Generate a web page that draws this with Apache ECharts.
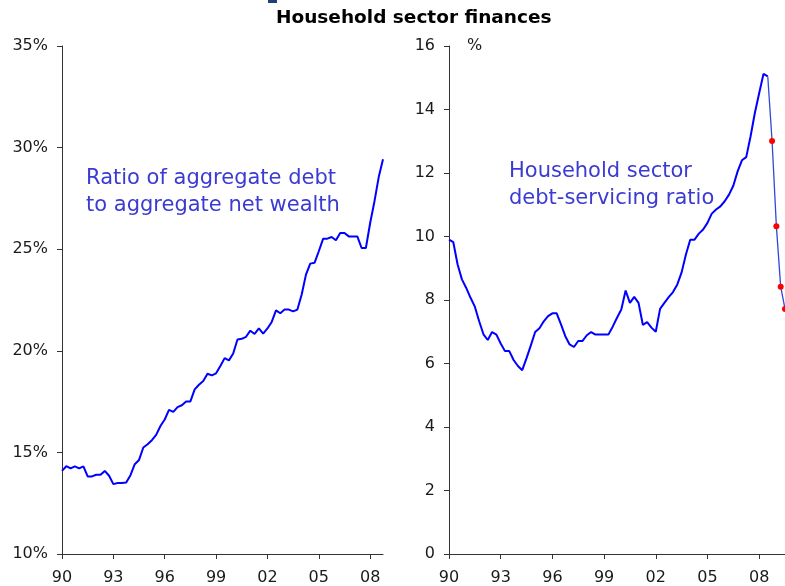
<!DOCTYPE html>
<html>
<head>
<meta charset="utf-8">
<script src="https://cdn.jsdelivr.net/npm/echarts@6/dist/echarts.min.js"></script>
<style>
  html, body { margin: 0; padding: 0; background: #ffffff; }
  #chart { width: 785px; height: 586px; }
</style>
</head>
<body>
<div id="chart"></div>
<script>
// Quarterly series, first observation 1990 Q1
const startYear = 1990;
const tickYears = [1990, 1993, 1996, 1999, 2002, 2005, 2008];

// Ratio of aggregate debt to aggregate net wealth, % (1990 Q1 - 2008 Q4)
const debtToWealth = [
  14.09, 14.32, 14.21, 14.31, 14.21, 14.31, 13.82, 13.82, 13.90, 13.90,
  14.09, 13.85, 13.44, 13.49, 13.49, 13.52, 13.88, 14.42, 14.63, 15.24,
  15.40, 15.60, 15.86, 16.30, 16.62, 17.09, 16.99, 17.23, 17.32, 17.51,
  17.51, 18.10, 18.33, 18.51, 18.87, 18.79, 18.89, 19.25, 19.64, 19.53,
  19.87, 20.56, 20.59, 20.69, 20.99, 20.83, 21.10, 20.85, 21.10, 21.42,
  21.99, 21.85, 22.03, 22.03, 21.94, 22.03, 22.77, 23.75, 24.29, 24.33,
  24.90, 25.51, 25.52, 25.60, 25.44, 25.80, 25.80, 25.63, 25.63, 25.63,
  25.06, 25.06, 26.29, 27.35, 28.55, 29.43
];

// Household sector debt-servicing ratio, % (1990 Q1 - 2008 Q3)
const debtServicing = [
  9.90, 9.82, 9.12, 8.65, 8.38, 8.07, 7.79, 7.33, 6.92, 6.74,
  6.99, 6.91, 6.63, 6.39, 6.39, 6.11, 5.92, 5.79, 6.17, 6.57,
  6.99, 7.11, 7.33, 7.49, 7.58, 7.58, 7.23, 6.86, 6.60, 6.52,
  6.71, 6.71, 6.89, 6.99, 6.91, 6.91, 6.91, 6.91, 7.16, 7.44,
  7.70, 8.30, 7.91, 8.10, 7.91, 7.22, 7.30, 7.13, 7.00, 7.72,
  7.91, 8.09, 8.25, 8.49, 8.87, 9.43, 9.90, 9.90, 10.09, 10.22,
  10.43, 10.72, 10.85, 10.95, 11.11, 11.32, 11.60, 12.05, 12.40, 12.50,
  13.15, 13.89, 14.51, 15.12, 15.04
];

// Projected debt-servicing ratio, quarters following the last observation
const debtServicingProjected = [13.01, 10.32, 8.42, 7.72, 7.25];
const projectedMarked = 4; // number of projected quarters drawn with a marker

const toPoints = (vals, offset) => vals.map((v, i) => [(offset + i) * 0.25, v]);
const tickOffsets = tickYears.map(y => y - startYear);
const yearLabel = v => String((startYear + Math.round(v)) % 100).padStart(2, '0');

const lastIdx = debtServicing.length - 1;
const projectedData = [
  { value: [lastIdx * 0.25, debtServicing[lastIdx]], symbol: 'none' }
].concat(debtServicingProjected.map((v, i) => ({
  value: [(lastIdx + 1 + i) * 0.25, v],
  symbol: i < projectedMarked ? 'circle' : 'none'
})));

const FONT = 'DejaVu Sans';
const axisColor = '#333333';
const labelColor = '#1a1a1a';
const noteColor = '#3b3bd2';

function xAxisFor(gridIndex, max) {
  return {
    type: 'value', gridIndex: gridIndex, min: 0, max: max,
    axisLine: { show: true, lineStyle: { color: axisColor, width: 1 } },
    axisTick: { show: true, length: 5, customValues: tickOffsets, lineStyle: { color: axisColor } },
    axisLabel: {
      customValues: tickOffsets, formatter: yearLabel, margin: 16,
      color: labelColor, fontFamily: FONT, fontSize: 16
    },
    splitLine: { show: false }
  };
}

function yAxisFor(gridIndex, min, max, interval, fmt) {
  return {
    type: 'value', gridIndex: gridIndex, min: min, max: max, interval: interval,
    axisLine: { show: true, lineStyle: { color: axisColor, width: 1 } },
    axisTick: { show: true, length: 5, lineStyle: { color: axisColor } },
    axisLabel: { formatter: fmt, margin: 14, color: labelColor, fontFamily: FONT, fontSize: 16 },
    splitLine: { show: false }
  };
}

const chart = echarts.init(document.getElementById('chart'), null, { renderer: 'canvas' });
chart.setOption({
  animation: false,
  backgroundColor: '#ffffff',
  title: {
    text: 'Household sector finances',
    left: 271, top: 4,
    textStyle: { fontFamily: FONT, fontSize: 18.5, fontWeight: 'bold', color: '#000000' }
  },
  grid: [
    { left: 62, top: 46, width: 321, height: 509, containLabel: false },
    { left: 449, top: 46, right: 0, height: 509, containLabel: false }
  ],
  xAxis: [xAxisFor(0, 18.75), xAxisFor(1, 19.5)],
  yAxis: [
    yAxisFor(0, 10, 35, 5, '{value}%'),
    yAxisFor(1, 0, 16, 2, '{value}')
  ],
  series: [
    {
      type: 'line', xAxisIndex: 0, yAxisIndex: 0, data: toPoints(debtToWealth, 0),
      showSymbol: false, lineStyle: { color: '#0000ff', width: 2 }, clip: false
    },
    {
      type: 'line', xAxisIndex: 1, yAxisIndex: 1, data: toPoints(debtServicing, 0),
      showSymbol: false, lineStyle: { color: '#0000ff', width: 2 }, clip: false
    },
    {
      type: 'line', xAxisIndex: 1, yAxisIndex: 1, data: projectedData,
      symbolSize: 6, itemStyle: { color: '#ff0000' },
      lineStyle: { color: '#3048d8', width: 1.3 }, clip: false
    }
  ],
  graphic: [
    { type: 'rect', left: 268, top: 0, shape: { width: 9, height: 3 }, style: { fill: '#1f3f7a' } },
    {
      type: 'text', left: 467, top: 38,
      style: { text: '%', fontFamily: FONT, fontSize: 16, fill: labelColor }
    },
    {
      type: 'text', left: 86, top: 165,
      style: {
        text: 'Ratio of aggregate debt\nto aggregate net wealth',
        fontFamily: FONT, fontSize: 21, lineHeight: 27, fill: noteColor
      }
    },
    {
      type: 'text', left: 509, top: 158,
      style: {
        text: 'Household sector\ndebt-servicing ratio',
        fontFamily: FONT, fontSize: 21, lineHeight: 27, fill: noteColor
      }
    }
  ]
});
</script>
</body>
</html>
